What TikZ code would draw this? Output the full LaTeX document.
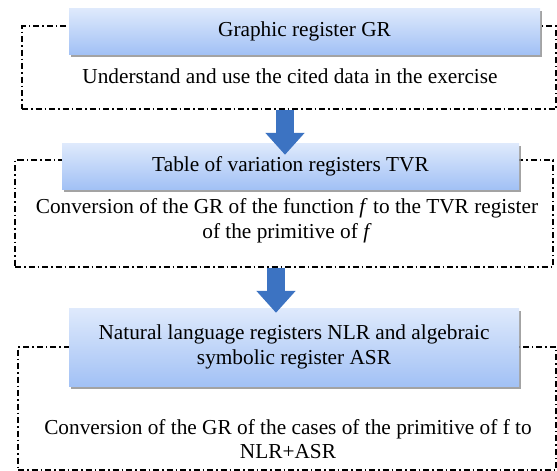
\documentclass[tikz,border=0pt]{standalone}
\usepackage{fontspec}
\setmainfont{Liberation Serif}
\usetikzlibrary{arrows.meta,shadows}
\definecolor{regtop}{RGB}{223,234,252}
\definecolor{regbot}{RGB}{162,193,245}
\definecolor{flowblue}{RGB}{60,115,194}
\tikzstyle{frame}=[draw,line width=1.2pt,dash pattern=on 6pt off 3pt on 1.5pt off 3pt,inner sep=0pt]
\tikzstyle{reg}=[top color=regtop,bottom color=regbot,inner sep=0pt,align=center,
  drop shadow={shadow xshift=1.5pt,shadow yshift=-3pt,fill=black!45,opacity=.8}]
\tikzstyle{flow}=[line width=18pt,draw=flowblue,-{Triangle[length=22pt,width=38pt]}]
\tikzstyle{body}=[align=center,inner sep=0pt]
\begin{document}
\begin{tikzpicture}[x=1pt,y=-1pt,font=\fontsize{21.3}{24.5}\selectfont]
	\useasboundingbox (0,0) rectangle (557,471);
	% dashed frames first, the register headers sit on their top edges
	\node[frame,minimum width=534pt,minimum height=83pt]  (frameA) at (289,67.5) {};
	\node[frame,minimum width=538pt,minimum height=107pt] (frameB) at (284,213.5) {};
	\node[frame,minimum width=538pt,minimum height=123pt] (frameC) at (287,408.5) {};
	\node[reg,minimum width=471pt,minimum height=46pt] (headA) at (304.5,31) {Graphic register GR};
	\node[reg,minimum width=457pt,minimum height=46pt] (headB) at (290.5,166) {Table of variation registers TVR};
	\node[reg,minimum width=450pt,minimum height=78pt] (headC) at (294,347)
		{Natural language registers NLR and algebraic\\symbolic register ASR};
	\node[body] (textA) at (290,76) {Understand and use the cited data in the exercise};
	\node[body] (textB) at (287,221)
		{Conversion of the GR of the function \textit{f} to the TVR register\\of the primitive of \textit{f}};
	\node[body] (textC) at (288,439)
		{Conversion of the GR of the cases of the primitive of f to\\NLR+ASR};
	\draw[flow] ([xshift=-4pt]frameA.south) -- ([xshift=-4pt,yshift=-12pt]frameA.south |- headB.north);
	\draw[flow] ([xshift=-8pt]frameB.south) -- ([xshift=-8pt,yshift=-5pt]frameB.south |- headC.north);
\end{tikzpicture}
\end{document}
